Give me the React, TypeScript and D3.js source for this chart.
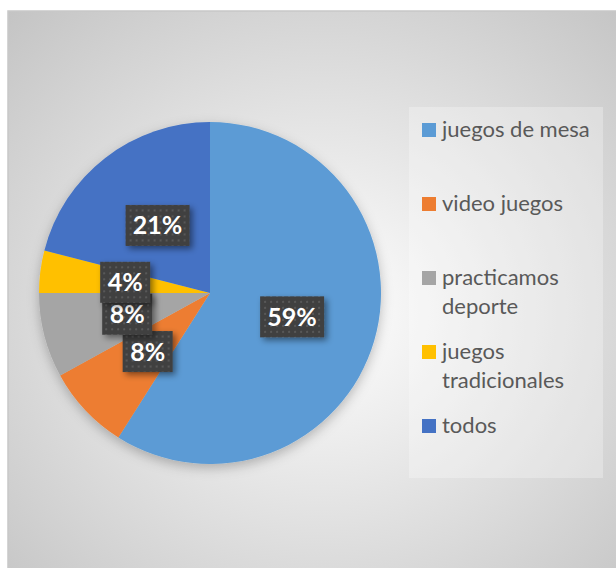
import React from "react";
import * as d3 from "d3";

const categories = ["juegos de mesa", "video juegos", "practicamos deporte", "juegos tradicionales", "todos"];
const legendLines = [["juegos de mesa"], ["video juegos"], ["practicamos", "deporte"], ["juegos", "tradicionales"], ["todos"]];
const values = [59, 8, 8, 4, 21];
const colors = ["#5B9BD5", "#ED7D31", "#A5A5A5", "#FFC000", "#4472C4"];

const W = 616;
const H = 568;
const cx = 210;
const cy = 293;
const R = 171;
const FONT = "Lato, 'Open Sans', sans-serif";

export default function App() {
  const pie = d3.pie<number>().value((d) => d).sort(null)(values);
  const arc = d3.arc<d3.PieArcDatum<number>>().innerRadius(0).outerRadius(R);
  const total = d3.sum(values);
  const pct = d3.format(".0%");

  const legendTop = 137;
  const legendStep = 74;
  const lineH = 29;

  return (
    <svg width={W} height={H} style={{ position: "absolute", left: 0, top: 0 }}>
      <defs>
        <radialGradient id="bg" cx="50%" cy="52%" r="72%" gradientUnits="objectBoundingBox">
          <stop offset="0%" stopColor="#ffffff" />
          <stop offset="100%" stopColor="#c4c4c4" />
        </radialGradient>
        <pattern id="dots" width="6" height="6" patternUnits="userSpaceOnUse">
          <rect width="6" height="6" fill="#404040" />
          <rect x="2" y="2" width="2" height="2" fill="#585858" />
        </pattern>
        <filter id="shadow" x="-30%" y="-30%" width="170%" height="170%">
          <feDropShadow dx="3" dy="3" stdDeviation="3" floodColor="#000" floodOpacity="0.45" />
        </filter>
        <filter id="pieShadow" x="-20%" y="-20%" width="140%" height="140%">
          <feDropShadow dx="0" dy="4" stdDeviation="6" floodColor="#000" floodOpacity="0.25" />
        </filter>
      </defs>
      <rect x={8} y={11} width={W + 10} height={H + 10} fill="url(#bg)" stroke="#c8c8c8" strokeWidth={1.5} />
      <rect x={409} y={107} width={194} height={371} fill="#ffffff" fillOpacity={0.28} />
      <g transform={`translate(${cx},${cy})`} filter="url(#pieShadow)">
        {pie.map((p, i) => (
          <path key={i} d={arc(p) || ""} fill={colors[i]} />
        ))}
      </g>
      <g transform={`translate(${cx},${cy})`}>
        {pie.map((p, i) => {
          const [x, y] = arc.centroid(p);
          const label = pct(values[i] / total);
          const w = label.length === 3 ? 64 : 50;
          const h = 41;
          return (
            <g key={i} transform={`translate(${x},${y})`}>
              <rect x={-w / 2} y={-h / 2} width={w} height={h} fill="url(#dots)" filter="url(#shadow)" />
              <text x={0} y={9} textAnchor="middle" fontFamily={FONT} fontWeight={700} fontSize={25} fill="#ffffff">
                {label}
              </text>
            </g>
          );
        })}
      </g>
      <g>
        {categories.map((c, i) => {
          const y0 = legendTop + i * legendStep;
          return (
            <g key={c}>
              <rect x={422} y={y0 - 14} width={14} height={14} fill={colors[i]} />
              <text x={442} y={y0} fontFamily={FONT} fontSize={22} fill="#595959">
                {legendLines[i].map((ln, j) => (
                  <tspan key={j} x={442} y={y0 + j * lineH}>
                    {ln}
                  </tspan>
                ))}
              </text>
            </g>
          );
        })}
      </g>
    </svg>
  );
}
